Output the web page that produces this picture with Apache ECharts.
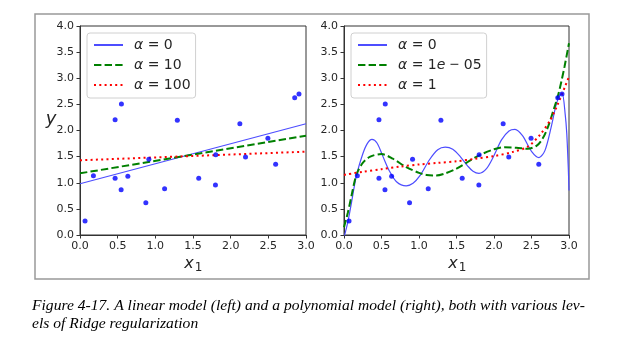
<!DOCTYPE html>
<html>
<head>
<meta charset="utf-8">
<script src="https://cdn.jsdelivr.net/npm/echarts@6/dist/echarts.min.js"></script>
<style>
html,body{margin:0;padding:0;background:#fff;}
#chart{width:629px;height:338px;}
</style>
</head>
<body>
<div id="chart"></div>
<script>
// ---- data ----
const pointsX = [0.067,0.178,0.466,0.466,0.550,0.546,0.635,0.874,0.914,1.123,1.292,1.576,1.798,1.802,2.122,2.197,2.494,2.597,2.850,2.907];
const pointsY = [0.268,1.136,2.207,1.085,2.507,0.868,1.123,0.619,1.448,0.887,2.195,1.085,0.957,1.537,2.131,1.493,1.850,1.352,2.628,2.699];

const lineX = [0, 3];
const linAlpha0   = [0.98, 2.13];
const linAlpha10  = [1.18, 1.90];
const linAlpha100 = [1.43, 1.595];

const polyX0 = [0.0,0.05,0.1,0.165,0.25,0.31,0.373,0.44,0.52,0.6,0.7,0.83,0.92,1.01,1.14,1.25,1.35,1.45,1.55,1.65,1.72,1.8,1.9,2.0,2.1,2.2,2.28,2.38,2.5,2.6,2.68,2.76,2.83,2.88,2.91,2.95,2.97,2.99,3.0];
const polyY0 = [-0.05,0.24,0.62,1.13,1.55,1.75,1.83,1.76,1.50,1.24,1.02,0.94,0.99,1.13,1.44,1.63,1.68,1.64,1.50,1.32,1.22,1.18,1.27,1.52,1.82,1.99,2.02,1.90,1.60,1.48,1.62,2.05,2.50,2.69,2.70,2.30,1.95,1.30,0.85];

const polyXa = [0.0,0.05,0.1,0.165,0.25,0.35,0.5,0.65,0.83,1.0,1.1,1.23,1.35,1.5,1.65,1.81,2.0,2.14,2.3,2.45,2.57,2.65,2.72,2.8,2.85,2.9,2.94,3.0];
const polyYa = [0.15,0.42,0.75,1.15,1.38,1.50,1.55,1.46,1.30,1.19,1.15,1.14,1.18,1.27,1.40,1.53,1.64,1.68,1.67,1.65,1.71,1.85,2.07,2.42,2.65,2.95,3.22,3.67];

const polyXb = [0,0.25,0.5,0.75,1.0,1.25,1.5,1.75,2.0,2.25,2.45,2.62,2.75,2.85,2.95,3.0];
const polyYb = [1.15,1.21,1.26,1.31,1.35,1.38,1.41,1.46,1.51,1.59,1.69,1.93,2.20,2.50,2.85,3.03];

const tickLabelsX = ['0.0','0.5','1.0','1.5','2.0','2.5','3.0'];
const tickLabelsY = ['0.0','0.5','1.0','1.5','2.0','2.5','3.0','3.5','4.0'];

const legendLeft  = ['α = 0', 'α = 10', 'α = 100'];
const legendRight = ['α = 0', 'α = 1e − 05', 'α = 1'];

const captionLine1 = 'Figure 4-17. A linear model (left) and a polynomial model (right), both with various lev-';
const captionLine2 = 'els of Ridge regularization';

// ---- build ----
const zip = (xs, ys) => xs.map((x, i) => [x, ys[i]]);
const pts = zip(pointsX, pointsY);

const displayName = {
  L0: legendLeft[0], L10: legendLeft[1], L100: legendLeft[2],
  R0: legendRight[0], R1: legendRight[1], R2: legendRight[2]
};
function richName(name) {
  const t = displayName[name];
  return t.replace('α', '{i|α}').replace('1e', '1{i|e}').replace(' − ', '{t| − }');
}

const FONT = 'DejaVu Sans';
const TXT = '#262626';

function xAxis(gi) {
  return {
    gridIndex: gi, type: 'value', min: 0, max: 3, interval: 0.5,
    axisLine: { show: true, onZero: false, lineStyle: { color: '#333', width: 1 } },
    axisTick: { show: true, length: 3.5, lineStyle: { color: '#333', width: 1 } },
    axisLabel: { margin: 6, fontFamily: FONT, fontSize: 11, color: TXT,
      formatter: v => tickLabelsX[Math.round(v / 0.5)] },
    splitLine: { show: false }
  };
}
function yAxis(gi) {
  return {
    gridIndex: gi, type: 'value', min: 0, max: 4, interval: 0.5,
    axisLine: { show: true, onZero: false, lineStyle: { color: '#333', width: 1 } },
    axisTick: { show: true, length: 3.5, lineStyle: { color: '#333', width: 1 } },
    axisLabel: { margin: 6, fontFamily: FONT, fontSize: 11, color: TXT,
      formatter: v => tickLabelsY[Math.round(v / 0.5)] },
    splitLine: { show: false }
  };
}

const legendCommon = {
  orient: 'vertical',
  itemWidth: 29, itemHeight: 14, itemGap: 6,
  padding: [5, 5, 6, 6],
  borderColor: '#d0d0d0', borderWidth: 1, borderRadius: 3,
  backgroundColor: 'rgba(255,255,255,0.8)',
  selectedMode: false,
  itemStyle: { opacity: 0 },
  formatter: richName,
  textStyle: {
    fontFamily: FONT, fontSize: 14, color: TXT, padding: [0, 0, 0, 6],
    rich: {
      i: { fontFamily: FONT, fontSize: 14, fontStyle: 'italic', color: TXT },
      t: { fontFamily: FONT, fontSize: 12.5, color: TXT }
    }
  }
};

const option = {
  animation: false,
  backgroundColor: '#fff',
  grid: [
    { left: 80, top: 26, width: 226, height: 209, show: true, borderColor: '#333', borderWidth: 1, backgroundColor: 'transparent' },
    { left: 344, top: 26, width: 225, height: 209, show: true, borderColor: '#333', borderWidth: 1, backgroundColor: 'transparent' }
  ],
  xAxis: [xAxis(0), xAxis(1)],
  yAxis: [yAxis(0), yAxis(1)],
  legend: [
    Object.assign({ left: 87, top: 33, data: ['L0', 'L10', 'L100'] }, legendCommon),
    Object.assign({ left: 351, top: 33, data: ['R0', 'R1', 'R2'] }, legendCommon)
  ],
  series: [
    { type: 'scatter', xAxisIndex: 0, yAxisIndex: 0, data: pts, symbolSize: 5, itemStyle: { color: '#0000ff' }, z: 3 },
    { name: 'L0', type: 'line', xAxisIndex: 0, yAxisIndex: 0, data: zip(lineX, linAlpha0), symbol: 'none',
      lineStyle: { color: '#4d4dff', width: 1.2, type: 'solid' }, itemStyle: { color: '#4d4dff' } },
    { name: 'L10', type: 'line', xAxisIndex: 0, yAxisIndex: 0, data: zip(lineX, linAlpha10), symbol: 'none',
      lineStyle: { color: '#008000', width: 2, type: [7.4, 3.2] }, itemStyle: { color: '#008000' } },
    { name: 'L100', type: 'line', xAxisIndex: 0, yAxisIndex: 0, data: zip(lineX, linAlpha100), symbol: 'none',
      lineStyle: { color: '#ff0000', width: 2, type: [2, 3.3] }, itemStyle: { color: '#ff0000' } },

    { type: 'scatter', xAxisIndex: 1, yAxisIndex: 1, data: pts, symbolSize: 5, itemStyle: { color: '#0000ff' }, z: 3 },
    { name: 'R0', type: 'line', xAxisIndex: 1, yAxisIndex: 1, data: zip(polyX0, polyY0), symbol: 'none', smooth: 0.3,
      lineStyle: { color: '#4d4dff', width: 1.2, type: 'solid' }, itemStyle: { color: '#4d4dff' } },
    { name: 'R1', type: 'line', xAxisIndex: 1, yAxisIndex: 1, data: zip(polyXa, polyYa), symbol: 'none', smooth: 0.3,
      lineStyle: { color: '#008000', width: 2, type: [7.4, 3.2] }, itemStyle: { color: '#008000' } },
    { name: 'R2', type: 'line', xAxisIndex: 1, yAxisIndex: 1, data: zip(polyXb, polyYb), symbol: 'none', smooth: 0.3,
      lineStyle: { color: '#ff0000', width: 2, type: [2, 3.3] }, itemStyle: { color: '#ff0000' } }
  ],
  graphic: [
    { type: 'rect', shape: { x: 35, y: 14, width: 554, height: 265 }, z: -10,
      style: { fill: 'none', stroke: '#999', lineWidth: 1.5 } },
    { type: 'text', x: 51, y: 119, style: { text: 'y', font: 'italic 18px "DejaVu Sans"', fill: TXT, align: 'center', verticalAlign: 'middle' } },
    { type: 'text', x: 189, y: 264, style: { text: 'x', font: 'italic 16px "DejaVu Sans"', fill: TXT, align: 'center', verticalAlign: 'middle' } },
    { type: 'text', x: 198.5, y: 268, style: { text: '1', font: '12px "DejaVu Sans"', fill: TXT, align: 'center', verticalAlign: 'middle' } },
    { type: 'text', x: 453, y: 264, style: { text: 'x', font: 'italic 16px "DejaVu Sans"', fill: TXT, align: 'center', verticalAlign: 'middle' } },
    { type: 'text', x: 462.5, y: 268, style: { text: '1', font: '12px "DejaVu Sans"', fill: TXT, align: 'center', verticalAlign: 'middle' } },
    { type: 'text', x: 32, y: 298, style: { text: captionLine1, font: 'italic 15.6px "Liberation Serif"', fill: '#000', verticalAlign: 'alphabetic' } },
    { type: 'text', x: 32, y: 316, style: { text: captionLine2, font: 'italic 15.6px "Liberation Serif"', fill: '#000', verticalAlign: 'alphabetic' } }
  ]
};

const chart = echarts.init(document.getElementById('chart'), null, { renderer: 'canvas' });
chart.setOption(option);
</script>
</body>
</html>
